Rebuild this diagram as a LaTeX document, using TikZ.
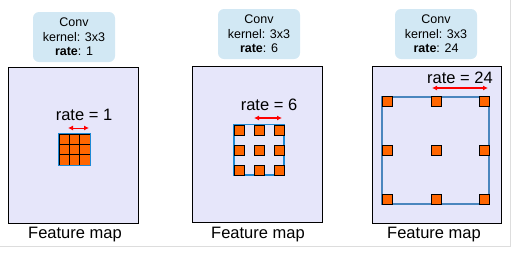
\documentclass[tikz,border=0pt]{standalone}
\usepackage{fontspec}
\setmainfont{Liberation Sans}
\usetikzlibrary{arrows.meta}
\definecolor{fmfill}{HTML}{E6E6FA}
\definecolor{convfill}{HTML}{D2E8F4}
\definecolor{cellor}{HTML}{FF6600}
\definecolor{kblue}{HTML}{1E8AD6}
\definecolor{kbluethree}{HTML}{4A86BE}
\definecolor{framegray}{HTML}{DDDDDD}
\begin{document}
\begin{tikzpicture}[x=1pt,y=-1pt,
 fmap/.style={draw=black, fill=fmfill, line width=1pt, inner sep=0pt, minimum width=130pt, minimum height=156pt},
 convbox/.style={fill=convfill, rounded corners=6pt, inner sep=0pt, minimum width=82pt, minimum height=50pt, align=center, font=\fontsize{12.5}{14.5}\selectfont},
 ratelab/.style={font=\fontsize{16.5}{18}\selectfont, inner sep=0pt},
 caption/.style={font=\fontsize{16.5}{18}\selectfont, inner sep=0pt},
 cell/.style={draw=black, fill=cellor, line width=0.6pt, minimum size=10pt, inner sep=0pt},
 gridcell/.style={draw=black, fill=cellor, line width=0.6pt, minimum size=10.33pt, inner sep=0pt},
 ratearrow/.style={red, line width=1.3pt, {Latex[length=5pt,width=5pt]}-{Latex[length=5pt,width=5pt]}}
]
\useasboundingbox (0,0) rectangle (516,255);
% frame lines
\coordinate (fa) at (0,246.5);
\coordinate (fb) at (510,246.5);
\coordinate (fc) at (510,0);
\draw[framegray, line width=0.8pt] (fa) -- (fb) -- (fc);

% ---------- panel 1 ----------
\node[fmap] (fm1) at (73,145) {};
\node[convbox] (cv1) at (74,37) {Conv\\kernel: 3x3\\\textbf{rate}: 1};
\node[ratelab] (r1) at (84,114.5) {rate = 1};
\coordinate (a1l) at (68,128);
\coordinate (a1r) at (89,128);
\draw[ratearrow, line width=1pt] (a1l) -- (a1r);
\foreach \i in {0,1,2}{\foreach \j in {0,1,2}{
  \node[gridcell] (g1-\i-\j) at ({59+5.165+\i*10.33},{134+5.165+\j*10.33}) {};
}}
\draw[kblue, line width=0.7pt] (g1-0-0.north west) rectangle (g1-2-2.south east);
\node[caption] (c1) at (75,235) {Feature map};

% ---------- panel 2 ----------
\node[fmap] (fm2) at (257,144.5) {};
\node[convbox] (cv2) at (259,34) {Conv\\kernel: 3x3\\\textbf{rate}: 6};
\node[ratelab] (r2) at (269,104.5) {rate = 6};
\coordinate (a2l) at (254,118);
\coordinate (a2r) at (282,118);
\draw[ratearrow] (a2l) -- (a2r);
\coordinate (s2a) at (234,124.5);
\coordinate (s2b) at (284,175);
\draw[kblue, line width=1.6pt] (s2a) rectangle (s2b);
\foreach \i/\x in {0/239,1/259,2/279}{\foreach \j/\y in {0/130,1/150,2/170}{
  \node[cell] (k2-\i-\j) at (\x,\y) {};
}}
\node[caption] (c2) at (258,235) {Feature map};

% ---------- panel 3 ----------
\node[fmap, minimum width=129pt, minimum height=157pt] (fm3) at (436.5,144.5) {};
\node[convbox] (cv3) at (436,34) {Conv\\kernel: 3x3\\\textbf{rate}: 24};
\node[ratelab] (r3) at (460,78) {rate = 24};
\coordinate (a3l) at (432,88);
\coordinate (a3r) at (488,88);
\draw[ratearrow, line width=1.6pt] (a3l) -- (a3r);
\coordinate (s3a) at (382,97);
\coordinate (s3b) at (489,204);
\draw[kbluethree, line width=2pt] (s3a) rectangle (s3b);
\foreach \i/\x in {0/387,1/436,2/484}{\foreach \j/\y in {0/101,1/150,2/199}{
  \node[cell] (k3-\i-\j) at (\x,\y) {};
}}
\node[caption] (c3) at (434,235) {Feature map};
\end{tikzpicture}
\end{document}
